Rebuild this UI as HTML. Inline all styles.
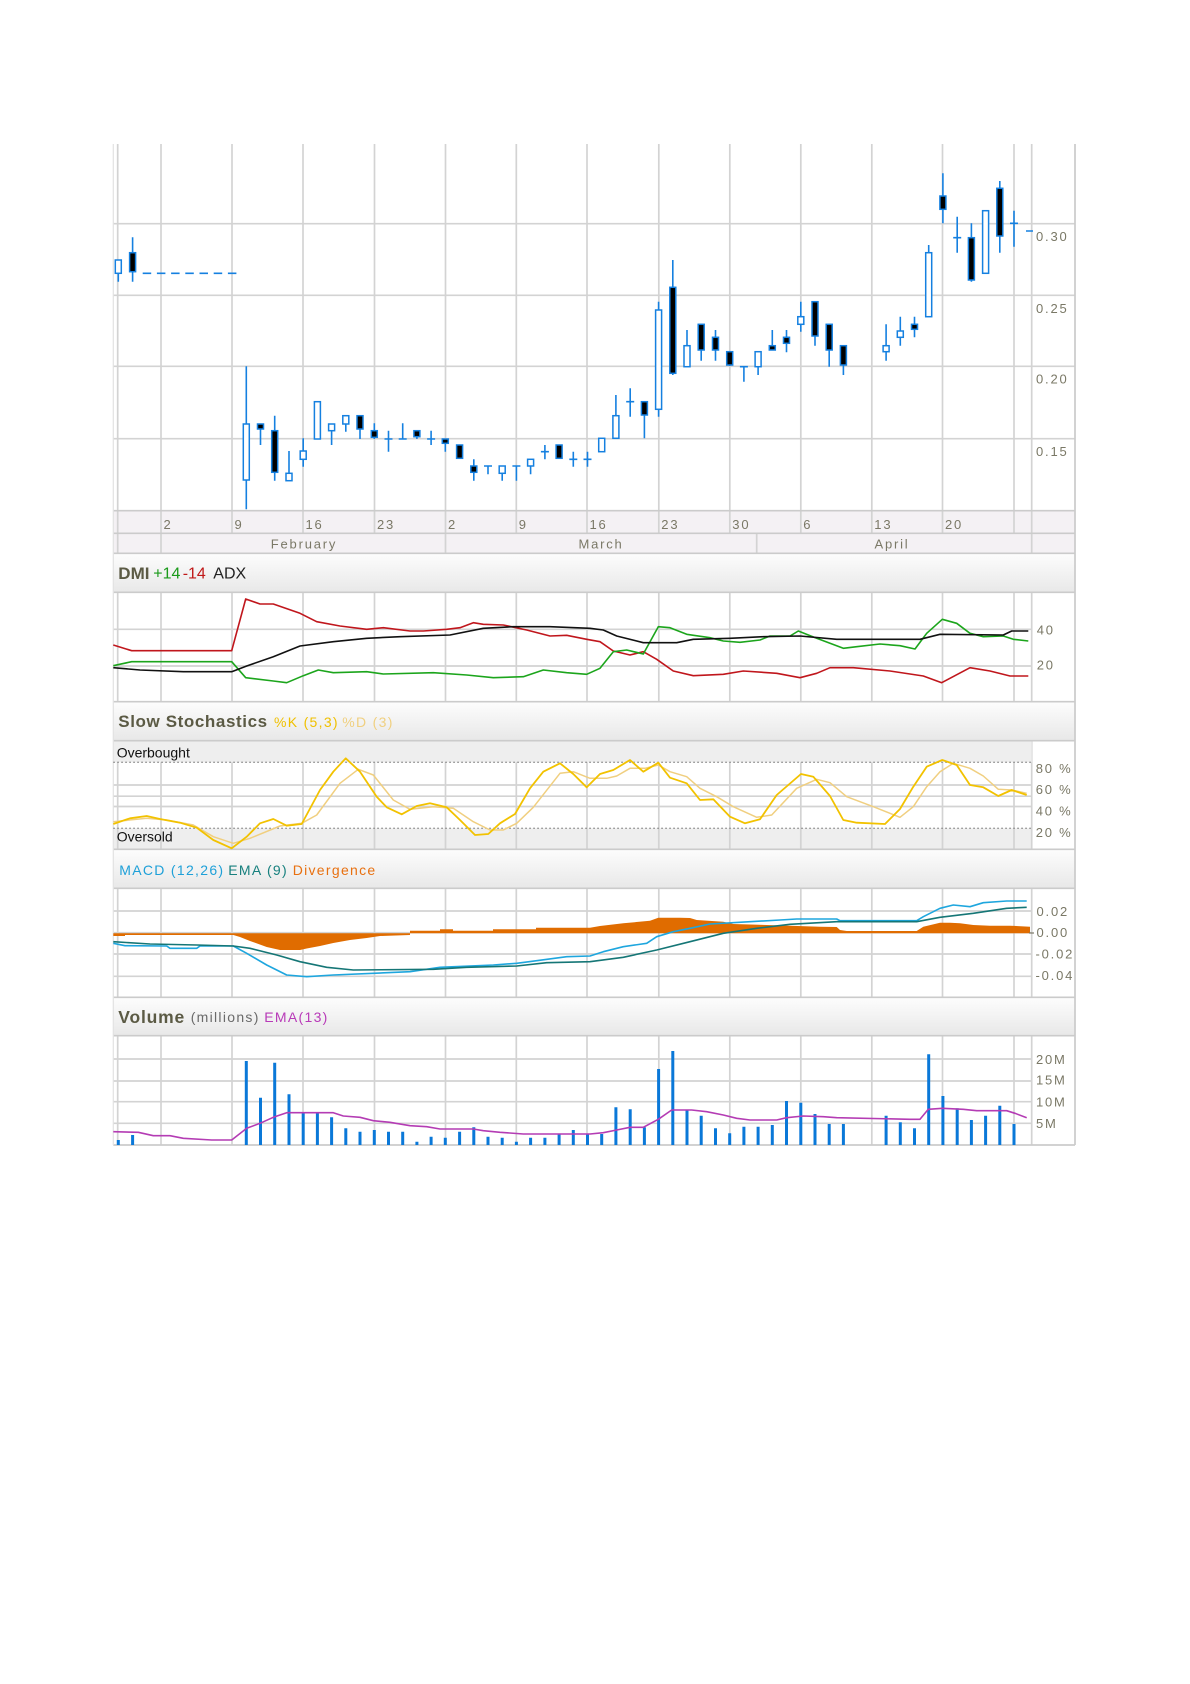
<!DOCTYPE html>
<html><head><meta charset="utf-8"><style>
html,body{margin:0;padding:0;background:#fff;}
svg{display:block;}
text{font-family:"Liberation Sans",Arial,sans-serif;}
.ax{font-size:13px;fill:#7a7866;letter-spacing:1.8px;}
.hd{font-size:17px;font-weight:bold;fill:#5b5a44;}
.sm{font-size:14px;letter-spacing:1.3px;}
</style></head><body>
<svg width="1190" height="1684" viewBox="0 0 1190 1684" xmlns="http://www.w3.org/2000/svg">
<defs>
<linearGradient id="hg" x1="0" y1="0" x2="0" y2="1"><stop offset="0" stop-color="#fdfdfd"/><stop offset="1" stop-color="#e8e8e8"/></linearGradient>
</defs>
<rect width="1190" height="1684" fill="#fff"/>
<rect x="113.3" y="510.7" width="961.7" height="22.6" fill="#f4f1f4"/>
<rect x="113.3" y="828.3" width="918.4" height="21" fill="#eeeeee"/>
<g stroke="#d3d3d3" stroke-width="1.7">
<path d="M117.7 144V1145M161 144V1145M232 144V1145M303 144V1145M374.5 144V1145M445.5 144V1145M516.3 144V1145M587 144V1145M658.8 144V1145M729.8 144V1145M800.8 144V1145M871.8 144V1145M942.5 144V1145M1014 144V1145M1031.7 144V1145"/>
</g>
<rect x="113.3" y="533.3" width="961.7" height="20" fill="#f4f1f4"/>
<rect x="113.3" y="553.3" width="961.7" height="39" fill="url(#hg)"/>
<rect x="113.3" y="701.7" width="961.7" height="39" fill="url(#hg)"/>
<rect x="113.3" y="849.3" width="961.7" height="39" fill="url(#hg)"/>
<rect x="113.3" y="997.3" width="961.7" height="38.4" fill="url(#hg)"/>
<rect x="113.3" y="740.7" width="918.4" height="21.6" fill="#eeeeee"/>
<path d="M117.7 533.3V553.3M161 533.3V553.3M445.5 533.3V553.3M756.7 533.3V553.3M1031.7 533.3V553.3" stroke="#d3d3d3" stroke-width="1.7"/>
<g stroke="#d3d3d3" stroke-width="1.7">
<path d="M113.3 223.7H1075M113.3 295.3H1075M113.3 366.3H1075M113.3 438.7H1075"/>
<path d="M113.3 629.3H1031.7M113.3 666H1031.7"/>
<path d="M113.3 785H1031.7M113.3 796.2H1031.7M113.3 806.5H1031.7"/>
<path d="M113.3 911H1031.7M113.3 932.7H1031.7M113.3 954H1031.7M113.3 976.3H1031.7"/>
<path d="M113.3 1059H1031.7M113.3 1081H1031.7M113.3 1101.7H1031.7M113.3 1123.3H1031.7"/>
</g>
<g stroke="#cbcbcb" stroke-width="1.7">
<path d="M113.3 510.7H1075M113.3 533.3H1075M113.3 553.3H1075M113.3 592.3H1075M113.3 701.7H1075M113.3 740.7H1075M113.3 849.3H1075M113.3 888.3H1075M113.3 997.3H1075M113.3 1035.7H1075M113.3 1145H1075"/>
<path d="M1075 144V1145"/>
</g>
<path d="M113.3 144V1145" stroke="#e2e2e2" stroke-width="1.2"/>
<path d="M113.3 762.3H1031.7M113.3 828.3H1031.7" stroke="#8a8a8a" stroke-width="1.3" stroke-dasharray="1.5 2.5"/>

<path d="M142.7 273.3H236.7" stroke="#1580e0" stroke-width="1.6" stroke-dasharray="8.5 5.7"/>
<path fill="none" stroke="#1580e0" stroke-width="1.6" d="M118.3 260V281.7M132.6 237.3V281.7M246.3 366.3V509.3M260.5 424V445M274.7 415.7V480.7M289 451V480.7M303.2 438.3V466.7M331.6 424V445M345.8 415.7V431.7M360 415.7V439M374.3 423.3V439M388.5 430.7V451.7M402.7 423.3V439M416.9 430.7V439M431.1 430.7V445M445.3 439V451.7M459.6 445V459M473.8 459.3V480.7M488 466V474.3M502.2 466V480.7M516.4 466V480.7M530.6 459.3V474.3M544.9 445V459.3M559.1 445V459M573.3 451.7V466.7M587.5 451.7V466.7M615.9 395V438.3M630.2 388.3V416.7M644.4 401.7V438.3M658.6 301.7V416.7M672.8 260V375M687 330V366.7M701.2 324.3V360.7M715.5 330V360.7M729.7 351.7V366M743.9 366.7V381.7M758.1 351.7V375M772.3 330V350M786.5 330V352.3M800.8 301.7V331.7M815 301.7V345.7M829.2 324.3V366.7M843.4 345.7V375M886.1 324.3V360.7M900.3 316.7V345.7M914.5 316.7V337.3M928.7 245V316.7M942.9 173.3V223.3M957.2 216.7V252.7M971.4 223.3V281.7M999.8 181V252.7M1014 210.7V246.7
M384.5 439H392.5M398.7 439H406.7M427.1 439H435.1M484 466H492M512.4 466H520.4M540.9 451.7H548.9M569.3 459.3H577.3M583.5 459.3H591.5M626.2 401.7H634.2M739.9 366.7H747.9M953.2 237.7H961.2M1010 223.3H1018M1026 231H1033"/>
<g fill="#fff" stroke="#1580e0" stroke-width="1.5">
<rect x="115.3" y="260" width="6" height="13.3"/>
<rect x="243.3" y="424" width="6" height="56"/>
<rect x="286" y="473.3" width="6" height="7.4"/>
<rect x="300.2" y="451" width="6" height="8.3"/>
<rect x="314.4" y="401.7" width="6" height="37.3"/>
<rect x="328.6" y="424" width="6" height="6.7"/>
<rect x="342.8" y="415.7" width="6" height="8.3"/>
<rect x="499.2" y="466" width="6" height="7.3"/>
<rect x="527.6" y="459.3" width="6" height="6.7"/>
<rect x="598.7" y="438.3" width="6" height="13.4"/>
<rect x="612.9" y="415.7" width="6" height="22.6"/>
<rect x="655.6" y="310" width="6" height="99.3"/>
<rect x="684" y="345.7" width="6" height="21"/>
<rect x="755.1" y="351.7" width="6" height="15"/>
<rect x="797.8" y="316.7" width="6" height="7.6"/>
<rect x="883.1" y="345.7" width="6" height="6"/>
<rect x="897.3" y="331" width="6" height="6.3"/>
<rect x="925.7" y="252.7" width="6" height="64"/>
<rect x="982.6" y="210.7" width="6" height="62.6"/>
</g>
<g fill="#000" stroke="#1580e0" stroke-width="1.5">
<rect x="129.6" y="252.7" width="6" height="19"/>
<rect x="257.5" y="424" width="6" height="5"/>
<rect x="271.7" y="430.7" width="6" height="41.6"/>
<rect x="357" y="415.7" width="6" height="13.3"/>
<rect x="371.3" y="430.7" width="6" height="6.6"/>
<rect x="413.9" y="430.7" width="6" height="6"/>
<rect x="442.3" y="439" width="6" height="4.3"/>
<rect x="456.6" y="445" width="6" height="13.3"/>
<rect x="470.8" y="466" width="6" height="6.3"/>
<rect x="556.1" y="445" width="6" height="13.3"/>
<rect x="641.4" y="401.7" width="6" height="13.3"/>
<rect x="669.8" y="287.3" width="6" height="86"/>
<rect x="698.2" y="324.3" width="6" height="25.7"/>
<rect x="712.5" y="337.3" width="6" height="12.7"/>
<rect x="726.7" y="351.7" width="6" height="13.3"/>
<rect x="769.3" y="345.7" width="6" height="4.3"/>
<rect x="783.5" y="337.3" width="6" height="6"/>
<rect x="812" y="301.7" width="6" height="34.3"/>
<rect x="826.2" y="324.3" width="6" height="25.7"/>
<rect x="840.4" y="345.7" width="6" height="19.3"/>
<rect x="911.5" y="324.3" width="6" height="5"/>
<rect x="939.9" y="196" width="6" height="13.3"/>
<rect x="968.4" y="237.7" width="6" height="42.3"/>
<rect x="996.8" y="188.3" width="6" height="47.7"/>
</g>

<text class="ax" x="1036" y="241.2">0.30</text>
<text class="ax" x="1036" y="313.2">0.25</text>
<text class="ax" x="1036" y="383.6">0.20</text>
<text class="ax" x="1036" y="456.2">0.15</text>
<g class="ax">
<text x="163.5" y="529">2</text><text x="234.5" y="529">9</text><text x="305.5" y="529">16</text><text x="377" y="529">23</text>
<text x="448" y="529">2</text><text x="518.8" y="529">9</text><text x="589.5" y="529">16</text><text x="661.3" y="529">23</text>
<text x="732.3" y="529">30</text><text x="803.3" y="529">6</text><text x="874.3" y="529">13</text><text x="945" y="529">20</text>
</g>
<g class="ax" text-anchor="middle">
<text x="304" y="548.5">February</text><text x="601" y="548.5">March</text><text x="892" y="548.5">April</text>
</g>

<text class="hd" x="118.3" y="578.8">DMI</text>
<text x="153.3" y="578.6" font-size="16" fill="#1a9a1a">+14</text>
<text x="182.7" y="578.6" font-size="16" fill="#c01818">-14</text>
<text x="213.3" y="578.6" font-size="16" fill="#222">ADX</text>
<g fill="none" stroke-width="1.6" stroke-linejoin="round">
<polyline stroke="#c0161c" points="113.3,645 131.7,650.7 231.7,650.7 245.7,599 260,604 273.3,604 300,613.3 316.7,621.7 340,626 366.7,629.3 383.3,627.7 410,631 423.3,631 446.7,629.3 460,627.7 473.3,622.7 483.3,624.3 503.3,625 526.7,630 550,636 566.7,635.3 586.7,639.3 600,641.7 613.3,651 630,655 643.3,651.7 656.7,659.3 673.3,671 693.3,675.7 723.3,674.3 743.3,671 776.7,673.3 800,677.7 816.7,673.3 830,667.7 853.3,667.7 890,671 923.3,676 941.7,682.7 970,667.7 990,671 1010,676 1028.3,676"/>
<polyline stroke="#1ca51c" points="113.3,665.7 131.7,661.7 231.7,661.7 245.7,677.7 273.3,681 286.7,682.7 303.3,675.7 318.3,670 333.3,672.7 366.7,671.7 383.3,674 433.3,672.7 466.7,675 493.3,677.7 523.3,676.7 543.3,670 566.7,672.7 586.7,674.3 600,668.3 613.3,651.7 626.7,650 643.3,654 658.3,626.7 670,627.7 686.7,634.3 710,637.7 723.3,641 740,642.3 760,640 770,636 790,636 798.3,631 816.7,638.3 843.3,648.3 856.7,646.7 880,644 900,645.7 915,649 926.7,633.3 942.3,619.3 956.7,623.3 970,633.3 983.3,636.7 1003.3,636 1013.3,639.3 1028.3,641"/>
<polyline stroke="#111" points="113.3,667.7 140,670 183.3,671.7 231.7,671.7 246.7,666 273.3,656.7 300,646 333.3,641.7 366.7,638.3 400,636.7 450,635 483.3,628.3 513.3,626.7 550,626.7 590,628.3 603.3,630 616.7,636 643.3,642.7 676.7,642.7 693.3,639.3 730,638.3 763.3,636.7 800,636 836.7,639.3 920,639.3 940,634.3 1003.3,635 1011.7,631 1028.3,631"/>
</g>
<text class="ax" x="1036.7" y="634.7">40</text>
<text class="ax" x="1036.7" y="669.7">20</text>

<text class="hd" x="118.3" y="727" style="letter-spacing:0.6px">Slow Stochastics</text>
<text class="sm" x="274" y="727" fill="#f0c000">%K (5,3)</text>
<text class="sm" x="342.3" y="727" fill="#f0d080">%D (3)</text>
<text x="116.7" y="757.5" font-size="14" fill="#111">Overbought</text>
<text x="116.7" y="841.5" font-size="14" fill="#111">Oversold</text>
<g fill="none" stroke-linejoin="round">
<polyline stroke="#f0cf80" stroke-width="1.5" points="113.3,821.7 146.7,818.3 166.7,820 193.3,825 213.3,836.7 233.3,843.3 250,838.3 280,826 301.7,823.3 316.7,815 340,783.3 358.3,769.3 373.3,775 393.3,800 410,809.3 433.3,806.7 453.3,808.3 473.3,821.7 490,830 503.3,830 516.7,823.3 533.3,807.3 560,773.3 573.3,771.7 590,778.3 606.7,778.3 616.7,776 630,768.3 645,768.3 658.3,765 670,771.7 686.7,776.7 700,788.3 716.7,796.7 733.3,806.7 756.7,817.3 771.7,815 796.7,788.3 816.7,779.3 830,782.7 846.7,796.7 873.3,806.7 900,817.3 913.3,806.7 926.7,786.7 940,771.7 953.3,763.3 970,768.3 983.3,776 998.3,789.3 1011.7,790 1026.7,793.3"/>
<polyline stroke="#f2c200" stroke-width="1.8" points="113.3,824 130,818.3 146.7,816 160,819 180,822.7 196.7,827.7 213.3,840 231.7,848.3 246.7,836.7 260,823.3 273.3,819 286.7,825.7 301.7,824 320,790 333.3,771.7 345.7,758.3 360,771.7 376.7,796.7 386.7,807.3 401.7,814.3 416.7,806 430,803.3 446.7,807.3 460,820 475,835 488.3,834 500,823.3 515,814 530,788.3 543.3,771.7 560,763.3 573.3,774 586.7,787.3 600,774 613.3,770 630,760 643.3,771.7 658.3,762.7 670,777.7 686.7,783.3 700,800 713.3,799.3 730,816.7 745,823.3 760,819.3 776.7,795 801,774 813.3,776.7 830,796 843.3,820 856.7,822.7 885,824 900,809 913.3,786.7 926.7,766.7 942.3,760 956.7,765 970,785 983.3,787.3 998.3,796 1011.7,790 1026.7,795"/>
</g>
<text class="ax" x="1035.7" y="773">80 %</text>
<text class="ax" x="1035.7" y="794">60 %</text>
<text class="ax" x="1035.7" y="815.5">40 %</text>
<text class="ax" x="1035.7" y="837">20 %</text>

<text class="sm" x="119.3" y="875" fill="#1ea0d8">MACD (12,26)</text>
<text class="sm" x="228.3" y="875" fill="#17807e">EMA (9)</text>
<text class="sm" x="292.7" y="875" fill="#e87010">Divergence</text>
<polygon fill="#e06c00" points="113.3,936 125,936 125,935 233.3,935 240,937 250,941 266.7,947 280,950 300,950 306.7,948.5 320,946 333.3,943 350,940 366.7,938 380,936 410,935 410,930.7 440,930.7 440,929.3 453,929.3 453,930.7 493,930.7 493,929.3 536,929.3 536,927.7 590,927.7 600,926 623.3,923.3 650,920.7 658.3,917.7 680,917.7 690,918 696.7,920 723.3,921.7 733.3,924 766.7,925 790,925.7 820,926.7 836.7,927 840,930 846.7,931 916.7,931 923.3,926.7 940,922.7 950,922.7 960,923.3 973.3,925 990,925.7 1010,925.7 1030,926.7 1030,933.3 113.3,933.3"/>
<g fill="none" stroke-width="1.6" stroke-linejoin="round">
<polyline stroke="#1ea6de" points="113.3,943.3 125,945.7 166.7,946 170,948.3 196.7,948.3 200,946 233.3,946 246.7,953.3 266.7,965 286.7,975 306.7,976.7 333.3,975 373.3,973.3 410,971.7 440,967.3 493.3,965 516.7,963.3 536.7,960.7 566.7,956.7 590,956 603.3,951.7 623.3,946.7 646.7,943.3 656.7,936.7 673.3,931.7 690,928.3 710,924 750,921.7 780,920 796.7,919 836.7,919 840,920.7 916.7,920.7 923.3,916.7 940,908.3 953.3,905 970,906.7 983.3,902.7 1006.7,901 1026.7,901"/>
<polyline stroke="#157676" points="113.3,941.7 150,944 196.7,945 233.3,946 250,948.3 276.7,955 300,961.7 326.7,967.3 353.3,970 433.3,969.3 466.7,967.3 516.7,966 546.7,962.7 590,961.7 623.3,957.3 656.7,950 690,941.7 723.3,933.3 756.7,928.3 790,924.3 836.7,921.7 916.7,921.7 940,917.3 973.3,913.3 1006.7,908.3 1026.7,907.3"/>
</g>
<path d="M1029 933H1034" stroke="#7a7866" stroke-width="1.2"/>
<text class="ax" x="1036.5" y="916">0.02</text>
<text class="ax" x="1036.5" y="937">0.00</text>
<text class="ax" x="1035.5" y="958.5">-0.02</text>
<text class="ax" x="1035.5" y="980">-0.04</text>

<text class="hd" x="118.3" y="1022.8" style="font-size:17.5px;letter-spacing:0.8px">Volume</text>
<text class="sm" x="190.7" y="1022" fill="#6a6a6a">(millions)</text>
<text class="sm" x="264.3" y="1022" fill="#b83ab8">EMA(13)</text>
<path fill="none" stroke="#0a78d8" stroke-width="3" d="M118.3 1145V1140M132.6 1145V1135M246.3 1145V1061M260.5 1145V1097.7M274.7 1145V1062.7M289 1145V1094.3M303.2 1145V1113.3M317.4 1145V1113.3M331.6 1145V1117.3M345.8 1145V1128.3M360 1145V1131.7M374.3 1145V1130M388.5 1145V1131.7M402.7 1145V1131.7M416.9 1145V1141.7M431.1 1145V1136.7M445.3 1145V1137.7M459.6 1145V1131.7M473.8 1145V1127.3M488 1145V1136.7M502.2 1145V1137.7M516.4 1145V1141.7M530.6 1145V1137.7M544.9 1145V1137.7M559.1 1145V1134M573.3 1145V1130M587.5 1145V1134M601.7 1145V1134M615.9 1145V1107.3M630.2 1145V1109.3M644.4 1145V1127.3M658.6 1145V1069M672.8 1145V1051M687 1145V1110M701.2 1145V1115.7M715.5 1145V1128.3M729.7 1145V1133.3M743.9 1145V1126.7M758.1 1145V1126.7M772.3 1145V1125M786.5 1145V1101M800.8 1145V1102.7M815 1145V1114M829.2 1145V1124M843.4 1145V1124M886.1 1145V1115.7M900.3 1145V1122.3M914.5 1145V1128.3M928.7 1145V1054.3M942.9 1145V1096M957.2 1145V1108.3M971.4 1145V1120M985.6 1145V1115.7M999.8 1145V1105.7M1014 1145V1124"/>
<polyline fill="none" stroke="#b43cb4" stroke-width="1.6" stroke-linejoin="round" points="113.3,1131.7 138.3,1132.3 153.3,1135.7 170,1135.7 183.3,1138.3 211.7,1140 231.7,1140 246.7,1128.3 260,1123.3 273.3,1117.3 286.7,1112.7 333.3,1112.7 343.3,1116 360,1117.3 373.3,1120.7 390,1122.3 410,1125.7 426.7,1126.7 440,1129 473.3,1129 483.3,1130.7 500,1132.3 523.3,1134 590,1134 603.3,1132.7 616.7,1130 630,1127.3 643.3,1127.3 658.3,1119.3 671.7,1110 691.7,1110 706.7,1111.7 723.3,1115 736.7,1118.3 750,1120 776.7,1120 786.7,1117.7 803.3,1116 823.3,1116.7 836.7,1117.7 910,1119.3 920,1119.3 928.3,1109.3 942.3,1108.3 963.3,1109.3 976.7,1110.7 1006.7,1110.7 1015,1113.3 1026.7,1117.7"/>
<text class="ax" x="1036" y="1064">20M</text>
<text class="ax" x="1036" y="1084.7">15M</text>
<text class="ax" x="1036" y="1106.4">10M</text>
<text class="ax" x="1036" y="1128">5M</text>
</svg>
</body></html>
